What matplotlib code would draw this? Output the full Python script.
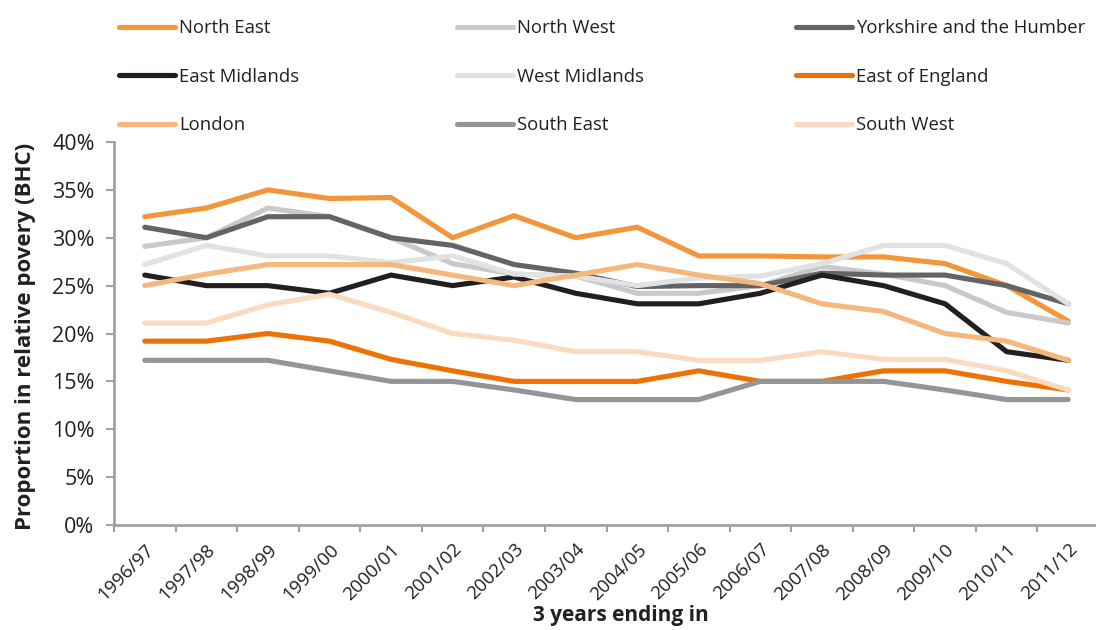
import matplotlib.pyplot as plt
from matplotlib.lines import Line2D
from matplotlib.ticker import PercentFormatter

plt.rcParams['font.family'] = ['Open Sans', 'DejaVu Sans']

years = ['1996/97', '1997/98', '1998/99', '1999/00', '2000/01', '2001/02',
         '2002/03', '2003/04', '2004/05', '2005/06', '2006/07', '2007/08',
         '2008/09', '2009/10', '2010/11', '2011/12']

north_east = [32.2, 33.1, 35.0, 34.1, 34.2, 30.0, 32.3, 30.0, 31.1, 28.1,
              28.1, 28.0, 28.0, 27.3, 25.0, 21.3]
north_west = [29.1, 30.0, 33.1, 32.2, 30.0, 27.3, 26.2, 26.0, 24.2, 24.2,
              25.0, 27.0, 26.2, 25.0, 22.2, 21.1]
yorkshire = [31.1, 30.0, 32.2, 32.2, 30.0, 29.2, 27.2, 26.3, 24.9, 25.0,
             25.0, 26.3, 26.1, 26.1, 25.0, 23.1]
east_midlands = [26.1, 25.0, 25.0, 24.2, 26.1, 25.0, 25.9, 24.2, 23.1, 23.1,
                 24.2, 26.1, 25.0, 23.1, 18.1, 17.2]
west_midlands = [27.2, 29.2, 28.1, 28.1, 27.4, 28.1, 26.2, 26.0, 25.0, 25.8,
                 26.0, 27.3, 29.2, 29.2, 27.3, 23.1]
east_england = [19.2, 19.2, 20.0, 19.2, 17.3, 16.1, 15.0, 15.0, 15.0, 16.1,
                15.0, 15.0, 16.1, 16.1, 15.0, 14.1]
london = [25.0, 26.2, 27.2, 27.2, 27.2, 26.1, 25.0, 26.1, 27.2, 26.1,
          25.2, 23.1, 22.3, 20.0, 19.2, 17.2]
south_east = [17.2, 17.2, 17.2, 16.1, 15.0, 15.0, 14.1, 13.1, 13.1, 13.1,
              15.0, 15.0, 15.0, 14.1, 13.1, 13.1]
south_west = [21.1, 21.1, 23.0, 24.1, 22.2, 20.0, 19.3, 18.1, 18.1, 17.2,
              17.2, 18.1, 17.3, 17.3, 16.1, 14.1]

regions = ['North East', 'North West', 'Yorkshire and the Humber',
           'East Midlands', 'West Midlands', 'East of England',
           'London', 'South East', 'South West']
series = [north_east, north_west, yorkshire, east_midlands, west_midlands,
          east_england, london, south_east, south_west]
colors = ['#F3963B', '#C8C9CB', '#636466', '#231F20', '#E1E2E3',
          '#EE7203', '#F6B77D', '#939598', '#FBDBBF']

fig = plt.figure(figsize=(10.96, 6.30), dpi=100)
ax = fig.add_axes([114 / 1096, 1 - 525 / 630, 985 / 1096, 383 / 630])

x = range(len(years))
for vals, c, name in zip(series, colors, regions):
    ax.plot(x, vals, color=c, lw=3.7, solid_capstyle='round',
            solid_joinstyle='miter', label=name)

ax.set_xlim(-0.5, len(years) - 0.5)
ax.set_ylim(0, 40)
ax.set_yticks(range(0, 41, 5))
ax.yaxis.set_major_formatter(PercentFormatter(decimals=0))
ax.set_xticks([i - 0.5 for i in range(len(years) + 1)])
ax.set_xticklabels([])
ax.set_xticks(list(x), minor=True)
ax.set_xticklabels(years, minor=True, rotation=45, ha='right',
                   rotation_mode='anchor', fontsize=13.5, color='#231F20')
ax.tick_params(axis='x', which='minor', length=0, pad=11)
ax.tick_params(axis='x', which='major', length=5, width=1.5, color='#A0A1A3')
ax.tick_params(axis='y', length=6, width=1.5, color='#A0A1A3',
               labelsize=15.5, labelcolor='#231F20', pad=8)

for side in ['top', 'right']:
    ax.spines[side].set_visible(False)
for side in ['left', 'bottom']:
    ax.spines[side].set_color('#A0A1A3')
    ax.spines[side].set_linewidth(2)

fig.text(26 / 1096, 1 - 336 / 630, 'Proportion in relative povery (BHC)',
         rotation=90, ha='center', va='center', fontsize=16,
         fontweight='bold', color='#231F20')
fig.text(621 / 1096, 1 - 616 / 630, '3 years ending in', ha='center',
         va='center', fontsize=15, fontweight='bold', color='#231F20')

# legend: three columns, filled row by row
col_x = [112, 450, 789]
for k in range(3):
    idx = [k, k + 3, k + 6]
    handles = [Line2D([], [], color=colors[i], lw=3.7, solid_capstyle='round')
               for i in idx]
    fig.legend(handles, [regions[i] for i in idx], loc='upper left',
               bbox_to_anchor=(col_x[k] / 1096, 1 - 12 / 630),
               frameon=False, fontsize=13.3, handlelength=3.0,
               handletextpad=0.25, labelspacing=1.65, borderaxespad=0,
               labelcolor='#231F20')

fig.savefig('out.png', dpi=100)
